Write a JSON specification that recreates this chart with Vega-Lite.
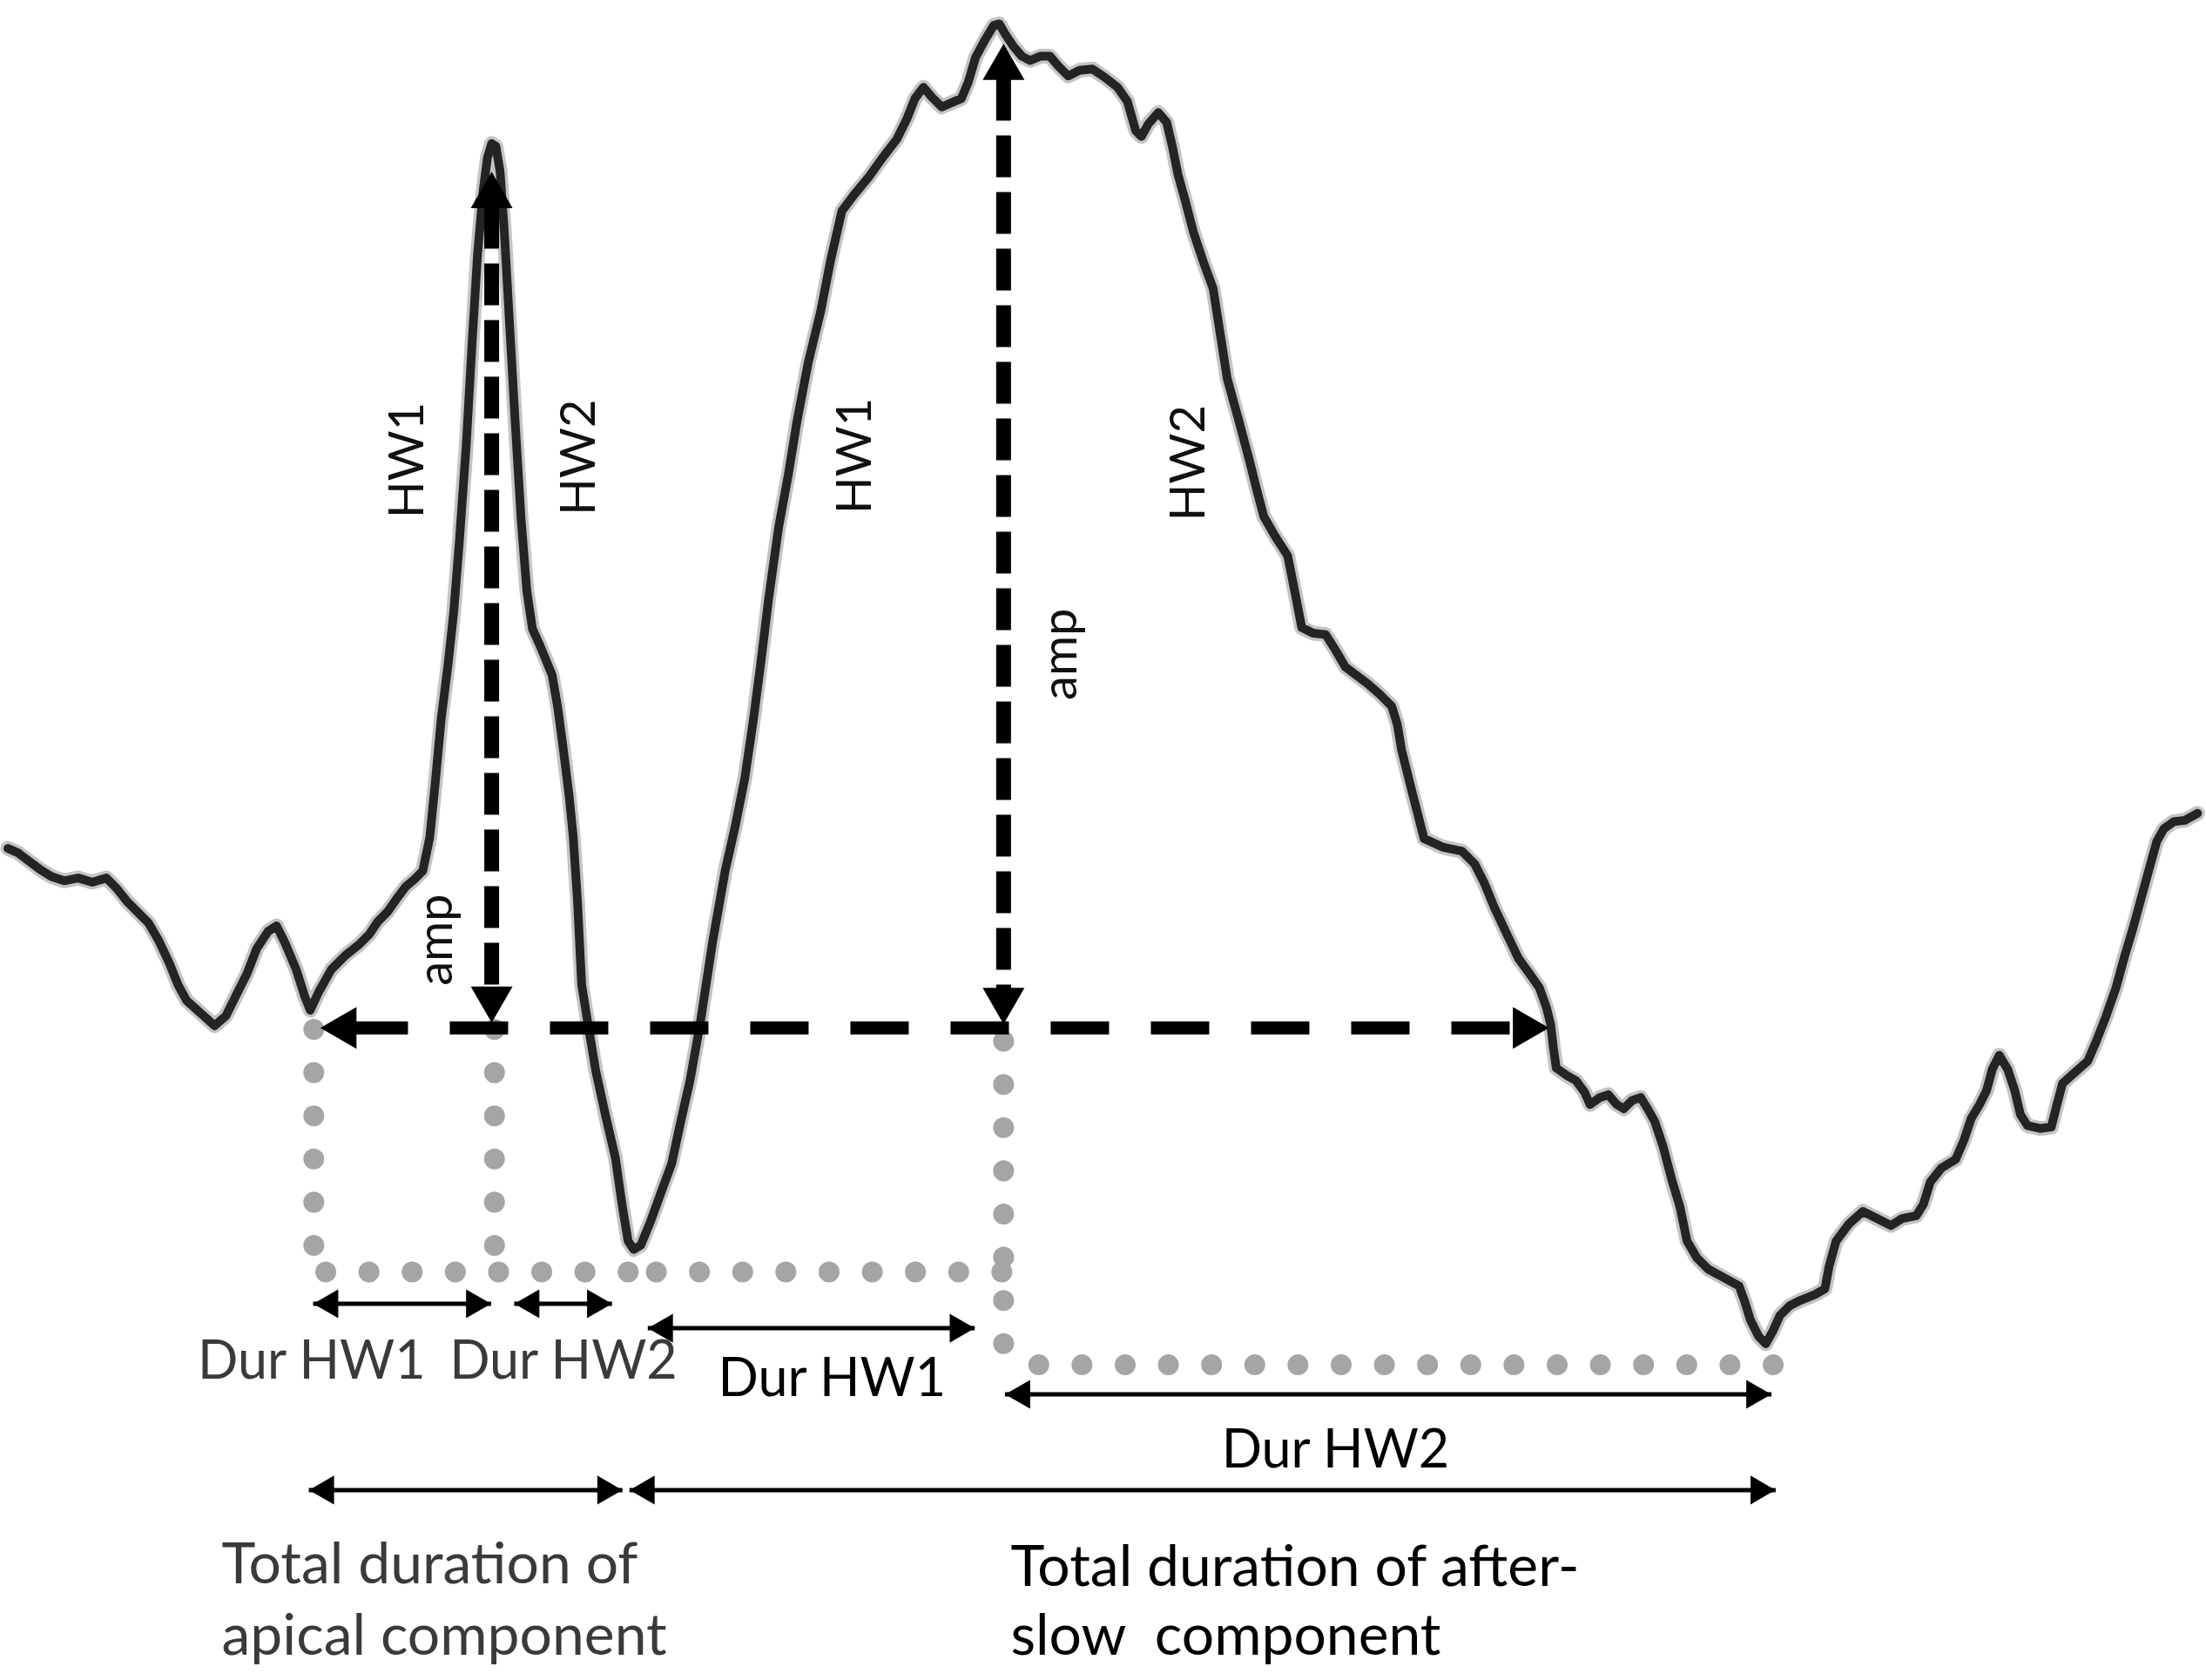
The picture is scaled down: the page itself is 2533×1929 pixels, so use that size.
{
  "$schema": "https://vega.github.io/schema/vega-lite/v6.json",
  "width": 2533,
  "height": 1929,
  "autosize": {"type": "fit", "contains": "padding"},
  "padding": 0,
  "background": "white",
  "config": {"view": {"stroke": null}},
  "datasets": {
    "wave": [
      {"x":5,"y":603},{"x":12,"y":606},{"x":20,"y":612},{"x":28,"y":618},{"x":36,"y":623},{"x":45,"y":626},{"x":55,"y":624},{"x":65,"y":627},{"x":75,"y":624},{"x":82,"y":631},{"x":90,"y":641},{"x":97,"y":648},{"x":105,"y":656},{"x":112,"y":668},{"x":120,"y":685},{"x":126,"y":700},{"x":132,"y":711},{"x":142,"y":720},{"x":152,"y":729},{"x":160,"y":722},{"x":167,"y":708},{"x":175,"y":692},{"x":182,"y":674},{"x":190,"y":662},{"x":196,"y":658},{"x":202,"y":670},{"x":210,"y":689},{"x":216,"y":708},{"x":220,"y":718},{"x":226,"y":705},{"x":235,"y":689},{"x":245,"y":679},{"x":255,"y":671},{"x":262,"y":664},{"x":268,"y":655},{"x":275,"y":648},{"x":282,"y":638},{"x":288,"y":630},{"x":294,"y":625},{"x":300,"y":619},{"x":305,"y":595},{"x":309,"y":555},{"x":313,"y":512},{"x":318,"y":472},{"x":322,"y":435},{"x":326,"y":385},{"x":331,"y":315},{"x":335,"y":245},{"x":339,"y":180},{"x":343,"y":135},{"x":346,"y":112},{"x":349,"y":102},{"x":352,"y":104},{"x":355,"y":122},{"x":358,"y":165},{"x":362,"y":235},{"x":366,"y":305},{"x":370,"y":370},{"x":374,"y":420},{"x":378,"y":447},{"x":383,"y":458},{"x":388,"y":470},{"x":392,"y":480},{"x":396,"y":503},{"x":400,"y":533},{"x":404,"y":565},{"x":407,"y":595},{"x":410,"y":640},{"x":413,"y":700},{"x":418,"y":731},{"x":423,"y":761},{"x":430,"y":793},{"x":437,"y":823},{"x":442,"y":858},{"x":446,"y":882},{"x":450,"y":888},{"x":455,"y":885},{"x":462,"y":868},{"x":470,"y":846},{"x":477,"y":827},{"x":483,"y":799},{"x":490,"y":768},{"x":497,"y":729},{"x":506,"y":670},{"x":515,"y":619},{"x":522,"y":588},{"x":529,"y":553},{"x":535,"y":512},{"x":540,"y":474},{"x":546,"y":425},{"x":553,"y":375},{"x":560,"y":337},{"x":566,"y":300},{"x":574,"y":258},{"x":583,"y":221},{"x":590,"y":185},{"x":598,"y":150},{"x":607,"y":138},{"x":617,"y":126},{"x":627,"y":112},{"x":637,"y":99},{"x":644,"y":85},{"x":650,"y":70},{"x":656,"y":62},{"x":662,"y":69},{"x":669,"y":76},{"x":676,"y":73},{"x":683,"y":70},{"x":688,"y":58},{"x":693,"y":41},{"x":700,"y":28},{"x":706,"y":18},{"x":710,"y":17},{"x":714,"y":24},{"x":720,"y":33},{"x":726,"y":40},{"x":732,"y":43},{"x":739,"y":40},{"x":746,"y":40},{"x":752,"y":47},{"x":759,"y":54},{"x":767,"y":50},{"x":776,"y":49},{"x":785,"y":55},{"x":794,"y":62},{"x":801,"y":72},{"x":807,"y":93},{"x":811,"y":97},{"x":816,"y":88},{"x":823,"y":80},{"x":829,"y":87},{"x":833,"y":104},{"x":837,"y":124},{"x":842,"y":142},{"x":848,"y":165},{"x":855,"y":186},{"x":862,"y":205},{"x":867,"y":237},{"x":872,"y":269},{"x":880,"y":298},{"x":888,"y":328},{"x":893,"y":348},{"x":898,"y":367},{"x":906,"y":381},{"x":915,"y":395},{"x":920,"y":420},{"x":925,"y":446},{"x":933,"y":450},{"x":942,"y":451},{"x":949,"y":462},{"x":956,"y":474},{"x":964,"y":480},{"x":972,"y":486},{"x":980,"y":493},{"x":989,"y":502},{"x":993,"y":515},{"x":996,"y":533},{"x":1004,"y":565},{"x":1012,"y":596},{"x":1025,"y":602},{"x":1039,"y":605},{"x":1048,"y":614},{"x":1055,"y":628},{"x":1062,"y":645},{"x":1070,"y":662},{"x":1079,"y":681},{"x":1087,"y":692},{"x":1094,"y":702},{"x":1099,"y":716},{"x":1102,"y":728},{"x":1104,"y":745},{"x":1106,"y":759},{"x":1113,"y":764},{"x":1120,"y":768},{"x":1126,"y":776},{"x":1130,"y":785},{"x":1137,"y":780},{"x":1143,"y":778},{"x":1149,"y":785},{"x":1154,"y":788},{"x":1160,"y":782},{"x":1166,"y":780},{"x":1171,"y":788},{"x":1176,"y":797},{"x":1182,"y":815},{"x":1188,"y":838},{"x":1194,"y":858},{"x":1199,"y":882},{"x":1206,"y":894},{"x":1214,"y":902},{"x":1225,"y":908},{"x":1236,"y":914},{"x":1240,"y":925},{"x":1244,"y":938},{"x":1250,"y":950},{"x":1255,"y":955},{"x":1260,"y":946},{"x":1265,"y":935},{"x":1272,"y":928},{"x":1280,"y":924},{"x":1290,"y":920},{"x":1297,"y":916},{"x":1300,"y":900},{"x":1305,"y":882},{"x":1314,"y":870},{"x":1324,"y":861},{"x":1334,"y":866},{"x":1344,"y":871},{"x":1352,"y":866},{"x":1362,"y":864},{"x":1367,"y":856},{"x":1372,"y":840},{"x":1380,"y":830},{"x":1390,"y":824},{"x":1396,"y":810},{"x":1401,"y":795},{"x":1407,"y":785},{"x":1412,"y":775},{"x":1416,"y":760},{"x":1421,"y":750},{"x":1427,"y":760},{"x":1432,"y":775},{"x":1436,"y":792},{"x":1441,"y":800},{"x":1450,"y":802},{"x":1458,"y":801},{"x":1462,"y":785},{"x":1466,"y":770},{"x":1475,"y":762},{"x":1484,"y":754},{"x":1490,"y":740},{"x":1497,"y":722},{"x":1504,"y":702},{"x":1510,"y":680},{"x":1516,"y":660},{"x":1522,"y":638},{"x":1528,"y":616},{"x":1533,"y":598},{"x":1538,"y":589},{"x":1545,"y":584},{"x":1553,"y":583},{"x":1562,"y":578}
    ],
    "dotted": [
      {"x":222.5,"y":731.6,"x2":222.5,"y2":886},
      {"x":351,"y":731.6,"x2":351,"y2":886},
      {"x":231,"y":904,"x2":448,"y2":904},
      {"x":466,"y":904,"x2":714,"y2":904},
      {"x":713,"y":740,"x2":713,"y2":955},
      {"x":738,"y":970,"x2":1262,"y2":970}
    ],
    "dashH": [
      {"x":248,"y":730.5,"x2":1085,"y2":730.5}
    ],
    "dashV": [
      {"x":349,"y":147,"x2":349,"y2":702},
      {"x":713,"y":56,"x2":713,"y2":703}
    ],
    "thickHeads": [
      {"x":240,"y":730.5,"dir":"left"},
      {"x":1088,"y":730.5,"dir":"right"},
      {"x":349,"y":135,"dir":"up"},
      {"x":349,"y":714,"dir":"down"},
      {"x":713,"y":44,"dir":"up"},
      {"x":713,"y":715,"dir":"down"}
    ],
    "thin": [
      {"x":222,"y":926.6,"x2":348.6,"y2":926.6},
      {"x":365,"y":926.6,"x2":434.6,"y2":926.6},
      {"x":460,"y":944,"x2":692.5,"y2":944},
      {"x":714,"y":991,"x2":1259,"y2":991},
      {"x":219,"y":1059,"x2":442,"y2":1059},
      {"x":447,"y":1059,"x2":1262,"y2":1059}
    ],
    "thinHeads": [
      {"x":231,"y":926.6,"dir":"left"},{"x":339.7,"y":926.6,"dir":"right"},
      {"x":374,"y":926.6,"dir":"left"},{"x":425.7,"y":926.6,"dir":"right"},
      {"x":469,"y":944,"dir":"left"},{"x":683.6,"y":944,"dir":"right"},
      {"x":723,"y":991,"dir":"left"},{"x":1250,"y":991,"dir":"right"},
      {"x":228,"y":1059,"dir":"left"},{"x":433,"y":1059,"dir":"right"},
      {"x":456,"y":1059,"dir":"left"},{"x":1253,"y":1059,"dir":"right"}
    ],
    "rotLabels": [
      {"x":290,"y":327,"text":"HW1"},
      {"x":412,"y":325,"text":"HW2"},
      {"x":608,"y":324,"text":"HW1"},
      {"x":845,"y":329,"text":"HW2"},
      {"x":310,"y":668,"text":"amp"},
      {"x":754,"y":465,"text":"amp"}
    ],
    "grayDur": [
      {"x":221,"y":980,"text":"Dur HW1"},
      {"x":400,"y":980,"text":"Dur HW2"}
    ],
    "blackDur": [
      {"x":591,"y":992,"text":"Dur HW1"},
      {"x":949,"y":1043,"text":"Dur HW2"}
    ],
    "grayTotal": [
      {"x":157,"y":1125,"text":"Total duration of"},
      {"x":157,"y":1176,"text":"apical component"}
    ],
    "blackTotal": [
      {"x":718,"y":1127,"text":"Total duration of after-"},
      {"x":718,"y":1176,"text":"slow\u00a0 component"}
    ]
  },
  "layer": [
    {
      "data": {"name": "dotted"},
      "mark": {"type": "rule", "color": "#a5a5a5", "strokeWidth": 24, "strokeCap": "round", "strokeDash": [0.1, 49.5]},
      "encoding": {
        "x": {"field": "x", "type": "quantitative", "scale": {"domain": [0, 1568], "nice": false, "zero": false}, "axis": null},
        "y": {"field": "y", "type": "quantitative", "scale": {"domain": [0, 1194], "nice": false, "zero": false, "reverse": true}, "axis": null},
        "x2": {"field": "x2"},
        "y2": {"field": "y2"}
      }
    },
    {
      "data": {"name": "wave"},
      "mark": {"type": "line", "color": "#8a8a8a", "strokeWidth": 17, "opacity": 0.5, "strokeJoin": "round", "strokeCap": "round"},
      "encoding": {
        "x": {"field": "x", "type": "quantitative", "scale": {"domain": [0, 1568], "nice": false, "zero": false}, "axis": null},
        "y": {"field": "y", "type": "quantitative", "scale": {"domain": [0, 1194], "nice": false, "zero": false, "reverse": true}, "axis": null}
      }
    },
    {
      "data": {"name": "wave"},
      "mark": {"type": "line", "color": "#242424", "strokeWidth": 10, "strokeJoin": "round", "strokeCap": "round"},
      "encoding": {
        "x": {"field": "x", "type": "quantitative", "scale": {"domain": [0, 1568], "nice": false, "zero": false}, "axis": null},
        "y": {"field": "y", "type": "quantitative", "scale": {"domain": [0, 1194], "nice": false, "zero": false, "reverse": true}, "axis": null}
      }
    },
    {
      "data": {"name": "dashH"},
      "mark": {"type": "rule", "color": "#000000", "strokeWidth": 15, "strokeDash": [67, 48]},
      "encoding": {
        "x": {"field": "x", "type": "quantitative", "scale": {"domain": [0, 1568], "nice": false, "zero": false}, "axis": null},
        "y": {"field": "y", "type": "quantitative", "scale": {"domain": [0, 1194], "nice": false, "zero": false, "reverse": true}, "axis": null},
        "x2": {"field": "x2"},
        "y2": {"field": "y2"}
      }
    },
    {
      "data": {"name": "dashV"},
      "mark": {"type": "rule", "color": "#000000", "strokeWidth": 17, "strokeDash": [48, 17]},
      "encoding": {
        "x": {"field": "x", "type": "quantitative", "scale": {"domain": [0, 1568], "nice": false, "zero": false}, "axis": null},
        "y": {"field": "y", "type": "quantitative", "scale": {"domain": [0, 1194], "nice": false, "zero": false, "reverse": true}, "axis": null},
        "x2": {"field": "x2"},
        "y2": {"field": "y2"}
      }
    },
    {
      "data": {"name": "thickHeads"},
      "mark": {"type": "point", "filled": true, "color": "#000000", "opacity": 1, "size": 2304, "strokeWidth": 0},
      "encoding": {
        "x": {"field": "x", "type": "quantitative", "scale": {"domain": [0, 1568], "nice": false, "zero": false}, "axis": null},
        "y": {"field": "y", "type": "quantitative", "scale": {"domain": [0, 1194], "nice": false, "zero": false, "reverse": true}, "axis": null},
        "shape": {"field": "dir", "type": "nominal", "scale": {"domain": ["left", "right", "up", "down"], "range": ["triangle-left", "triangle-right", "triangle-up", "triangle-down"]}, "legend": null}
      }
    },
    {
      "data": {"name": "thin"},
      "mark": {"type": "rule", "color": "#000000", "strokeWidth": 5},
      "encoding": {
        "x": {"field": "x", "type": "quantitative", "scale": {"domain": [0, 1568], "nice": false, "zero": false}, "axis": null},
        "y": {"field": "y", "type": "quantitative", "scale": {"domain": [0, 1194], "nice": false, "zero": false, "reverse": true}, "axis": null},
        "x2": {"field": "x2"},
        "y2": {"field": "y2"}
      }
    },
    {
      "data": {"name": "thinHeads"},
      "mark": {"type": "point", "filled": true, "color": "#000000", "opacity": 1, "size": 1100, "strokeWidth": 0},
      "encoding": {
        "x": {"field": "x", "type": "quantitative", "scale": {"domain": [0, 1568], "nice": false, "zero": false}, "axis": null},
        "y": {"field": "y", "type": "quantitative", "scale": {"domain": [0, 1194], "nice": false, "zero": false, "reverse": true}, "axis": null},
        "shape": {"field": "dir", "type": "nominal", "scale": {"domain": ["left", "right", "up", "down"], "range": ["triangle-left", "triangle-right", "triangle-up", "triangle-down"]}, "legend": null}
      }
    },
    {
      "data": {"name": "rotLabels"},
      "mark": {"type": "text", "font": "Lato", "fontSize": 56, "color": "#111111", "angle": 270, "align": "center", "baseline": "middle"},
      "encoding": {
        "x": {"field": "x", "type": "quantitative", "scale": {"domain": [0, 1568], "nice": false, "zero": false}, "axis": null},
        "y": {"field": "y", "type": "quantitative", "scale": {"domain": [0, 1194], "nice": false, "zero": false, "reverse": true}, "axis": null},
        "text": {"field": "text"}
      }
    },
    {
      "data": {"name": "grayDur"},
      "mark": {"type": "text", "font": "Lato", "fontSize": 61, "color": "#3a3a3a", "align": "center", "baseline": "alphabetic"},
      "encoding": {
        "x": {"field": "x", "type": "quantitative", "scale": {"domain": [0, 1568], "nice": false, "zero": false}, "axis": null},
        "y": {"field": "y", "type": "quantitative", "scale": {"domain": [0, 1194], "nice": false, "zero": false, "reverse": true}, "axis": null},
        "text": {"field": "text"}
      }
    },
    {
      "data": {"name": "blackDur"},
      "mark": {"type": "text", "font": "Lato", "fontSize": 61, "color": "#000000", "align": "center", "baseline": "alphabetic"},
      "encoding": {
        "x": {"field": "x", "type": "quantitative", "scale": {"domain": [0, 1568], "nice": false, "zero": false}, "axis": null},
        "y": {"field": "y", "type": "quantitative", "scale": {"domain": [0, 1194], "nice": false, "zero": false, "reverse": true}, "axis": null},
        "text": {"field": "text"}
      }
    },
    {
      "data": {"name": "grayTotal"},
      "mark": {"type": "text", "font": "Lato", "fontSize": 66, "color": "#3a3a3a", "align": "left", "baseline": "alphabetic"},
      "encoding": {
        "x": {"field": "x", "type": "quantitative", "scale": {"domain": [0, 1568], "nice": false, "zero": false}, "axis": null},
        "y": {"field": "y", "type": "quantitative", "scale": {"domain": [0, 1194], "nice": false, "zero": false, "reverse": true}, "axis": null},
        "text": {"field": "text"}
      }
    },
    {
      "data": {"name": "blackTotal"},
      "mark": {"type": "text", "font": "Lato", "fontSize": 66, "color": "#000000", "align": "left", "baseline": "alphabetic"},
      "encoding": {
        "x": {"field": "x", "type": "quantitative", "scale": {"domain": [0, 1568], "nice": false, "zero": false}, "axis": null},
        "y": {"field": "y", "type": "quantitative", "scale": {"domain": [0, 1194], "nice": false, "zero": false, "reverse": true}, "axis": null},
        "text": {"field": "text"}
      }
    }
  ]
}
